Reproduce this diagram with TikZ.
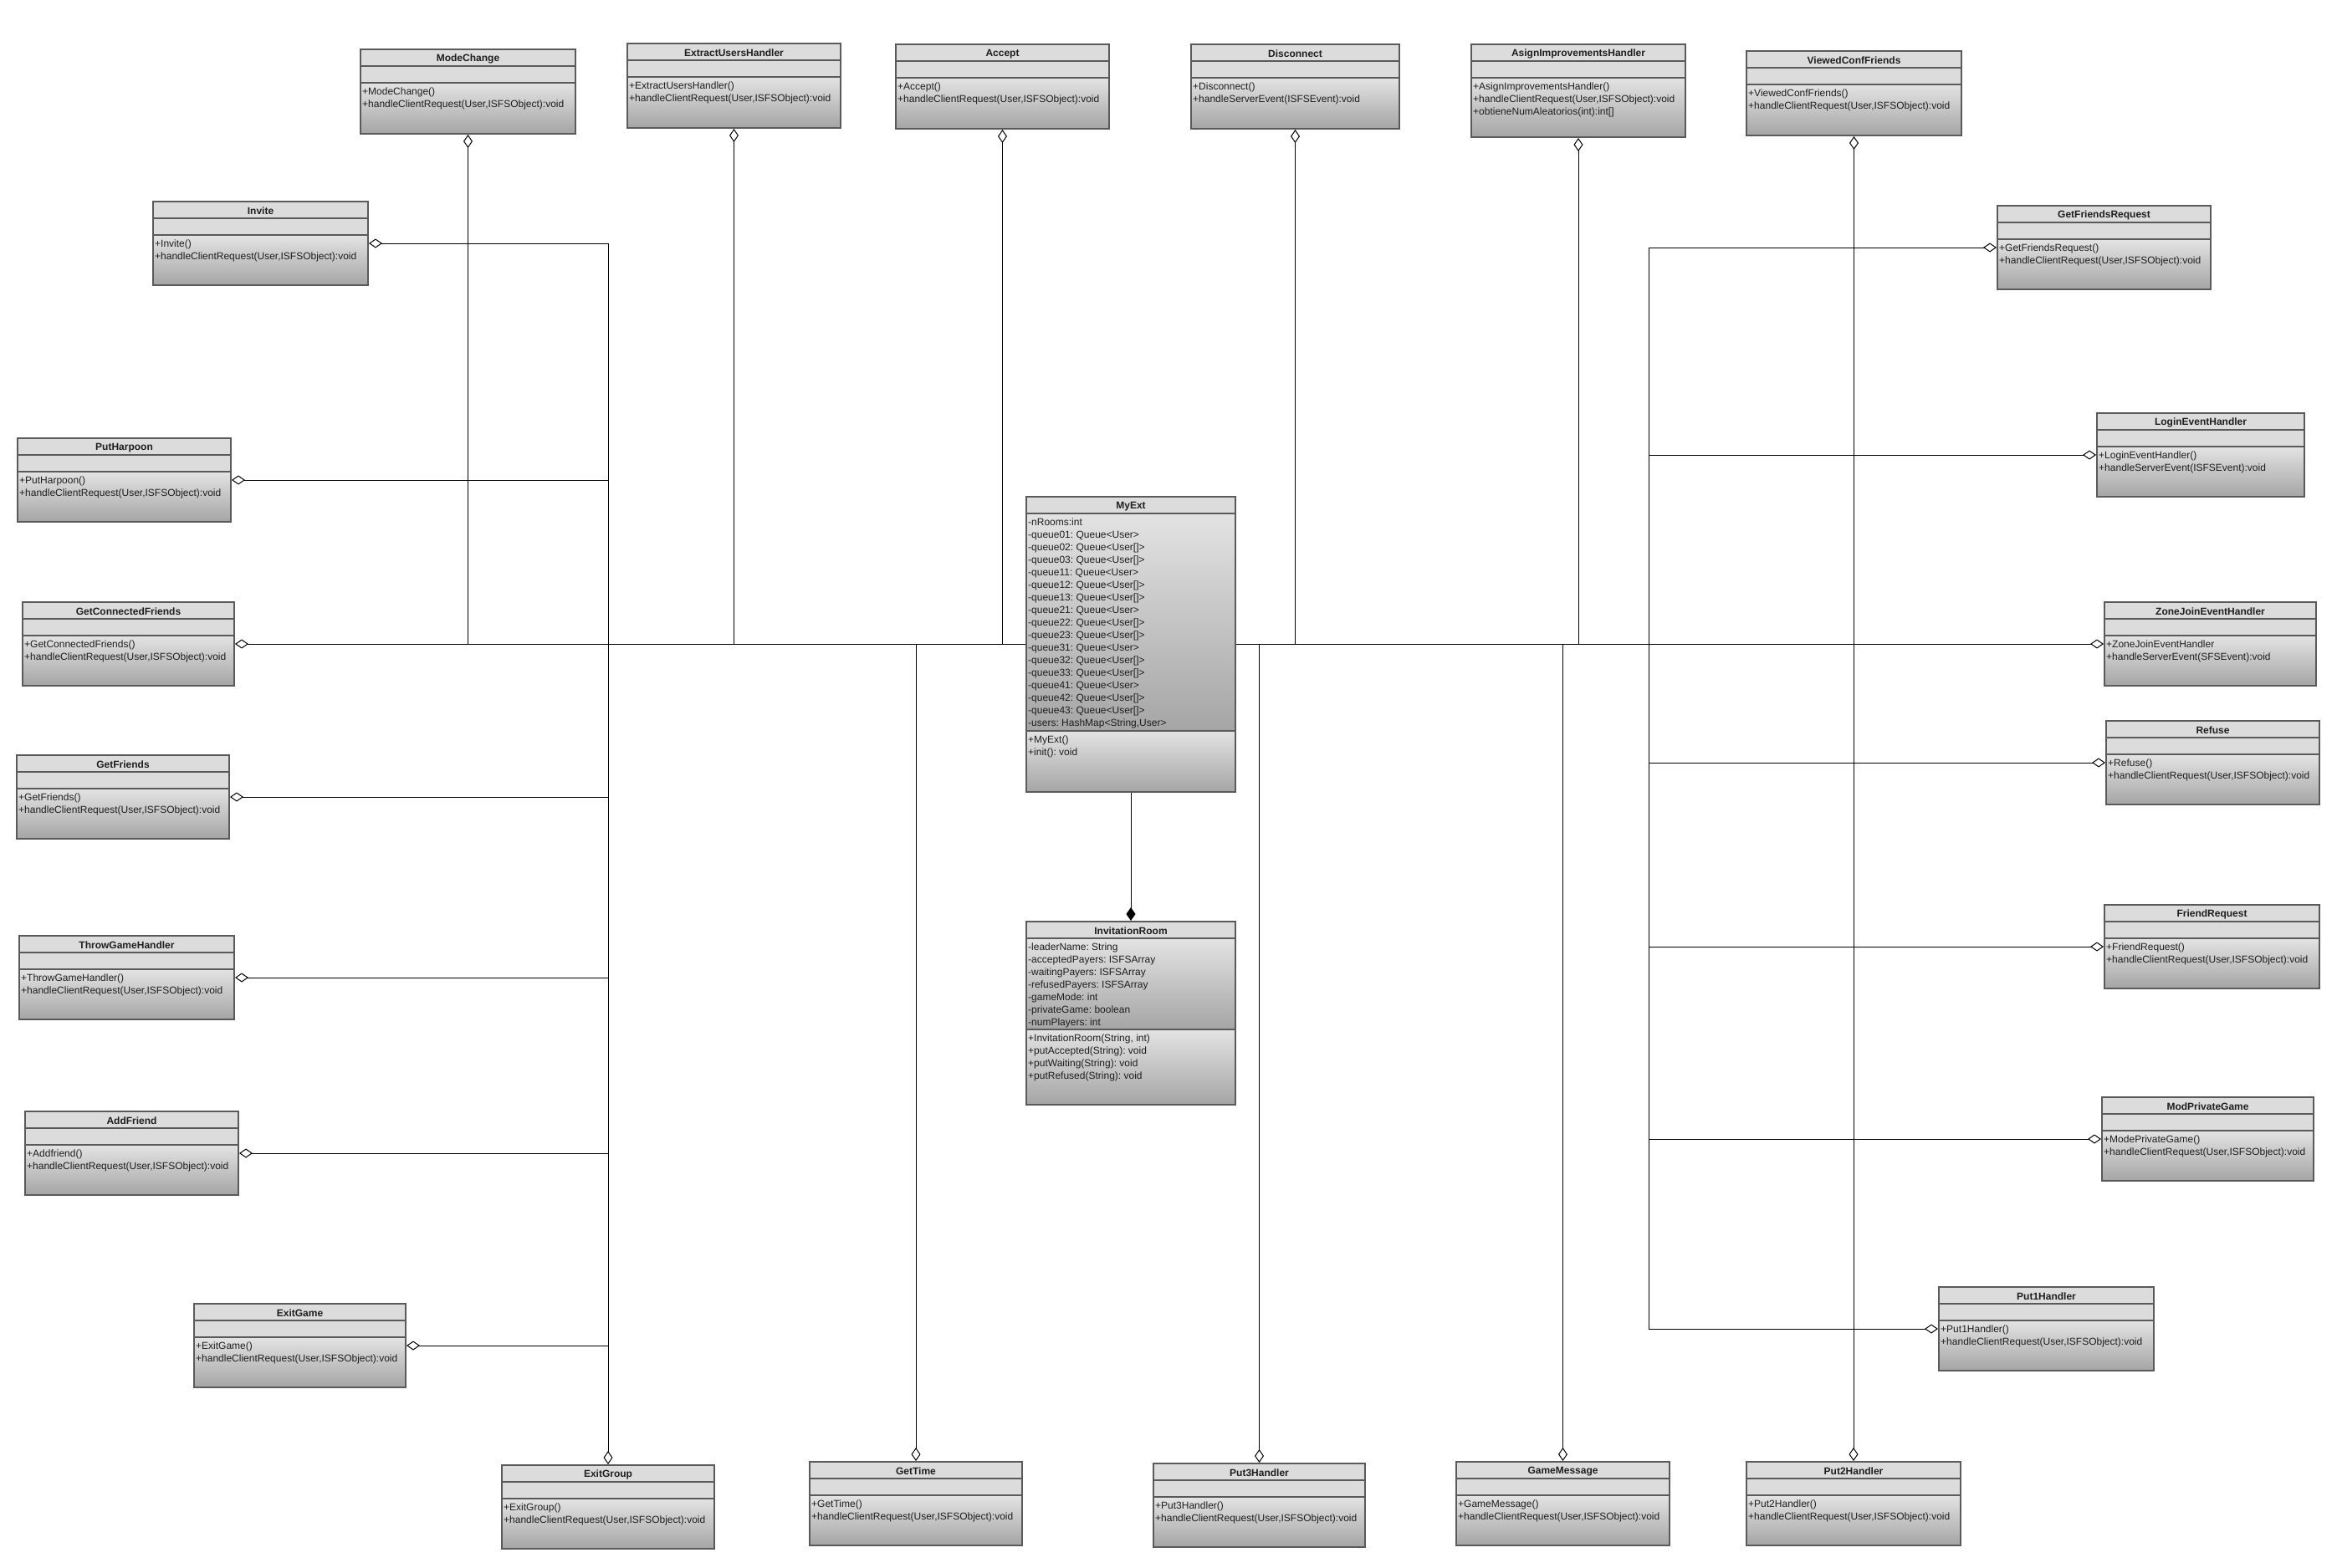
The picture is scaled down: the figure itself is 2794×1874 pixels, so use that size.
\documentclass[tikz,border=0pt]{standalone}
\usepackage{fontspec}
\setmainfont{Liberation Sans}
\usetikzlibrary{arrows.meta}
\frenchspacing
\definecolor{boxgray}{HTML}{5A5A5A}
\definecolor{flatfill}{HTML}{DCDCDC}
\definecolor{shadetop}{HTML}{E3E3E3}
\definecolor{shadebot}{HTML}{A5A5A5}
\definecolor{txtcol}{HTML}{1E1E1E}
\tikzset{
  umlbox/.style={draw=boxgray, line width=2pt, inner sep=0pt, rectangle},
  sepline/.style={draw=boxgray, line width=2pt},
  flatcomp/.style={fill=flatfill},
  compshade/.style={top color=shadetop, bottom color=shadebot},
  umltitle/.style={inner sep=0pt, font=\fontsize{12}{15}\selectfont\bfseries\frenchspacing, text=txtcol},
  umlmembers/.style={anchor=north west, inner sep=0pt, align=left, font=\fontsize{12}{15}\selectfont\frenchspacing, text=txtcol, execute at begin node=\strut},
  agg/.style={line width=1pt, draw=black, {Diamond[open, length=16pt, width=11pt, line width=1pt]}-},
  comp/.style={line width=1pt, draw=black, -{Diamond[length=16pt, width=11pt]}}
}
\newcommand{\HCRline}{+handleClientRequest(User,ISFSObject):void}
% #1 name, #2 x1, #3 y1, #4 x2, #5 title, #6 attr height, #7 attrs, #8 method height, #9 methods
\newcommand{\umlclass}[9]{%
  \pgfmathsetmacro{\uya}{#3+20}%
  \pgfmathsetmacro{\uyb}{\uya+#6}%
  \pgfmathsetmacro{\uyc}{\uyb+#8}%
  \pgfmathsetmacro{\uxm}{(#2+#4)/2}%
  \pgfmathsetmacro{\uym}{(#3+\uyc)/2}%
  \pgfmathsetmacro{\ubw}{#4-#2}%
  \pgfmathsetmacro{\ubh}{\uyc-#3}%
  \pgfmathsetmacro{\uyt}{#3+11.5}%
  \pgfmathsetmacro{\uxl}{#2+2}%
  \pgfmathsetmacro{\uyaa}{\uya+5.5}%
  \pgfmathsetmacro{\uybb}{\uyb+5.5}%
  \fill[flatcomp] (#2,#3) rectangle (#4,\uya);
  \def\umlattrs{#7}%
  \ifx\umlattrs\empty
    \fill[flatcomp] (#2,\uya) rectangle (#4,\uyb);
  \else
    \shade[compshade] (#2,\uya) rectangle (#4,\uyb);
  \fi
  \shade[compshade] (#2,\uyb) rectangle (#4,\uyc);
  \draw[sepline] (#2,\uya) -- (#4,\uya) (#2,\uyb) -- (#4,\uyb);
  \node[umlbox, minimum width=\ubw pt, minimum height=\ubh pt] (#1) at (\uxm,\uym) {};
  \node[umltitle] (#1-title) at (\uxm,\uyt) {#5};
  \node[umlmembers] (#1-attrs) at (\uxl,\uyaa) {#7};
  \node[umlmembers] (#1-ops) at (\uxl,\uybb) {#9};
}
\begin{document}
\begin{tikzpicture}[x=1pt,y=-1pt]
\fill[white] (0,0) rectangle (2794,1874);
\useasboundingbox (0,0) rectangle (2794,1874);
\coordinate (lbus) at (727,0);
\coordinate (rbus) at (1971,0);

% centre classes
\umlclass{myext}{1227}{594}{1477}{MyExt}{260}{-nRooms:int\\-queue01: Queue<User>\\-queue02: Queue<User[]>\\-queue03: Queue<User[]>\\-queue11: Queue<User>\\-queue12: Queue<User[]>\\-queue13: Queue<User[]>\\-queue21: Queue<User>\\-queue22: Queue<User[]>\\-queue23: Queue<User[]>\\-queue31: Queue<User>\\-queue32: Queue<User[]>\\-queue33: Queue<User[]>\\-queue41: Queue<User>\\-queue42: Queue<User[]>\\-queue43: Queue<User[]>\\-users: HashMap<String,User>}{73}{+MyExt()\\+init(): void}
\umlclass{invroom}{1227}{1102}{1477}{InvitationRoom}{109}{-leaderName: String\\-acceptedPayers: ISFSArray\\-waitingPayers: ISFSArray\\-refusedPayers: ISFSArray\\-gameMode: int\\-privateGame: boolean\\-numPlayers: int}{90}{+InvitationRoom(String, int)\\+putAccepted(String): void\\+putWaiting(String): void\\+putRefused(String): void}

% top row
\umlclass{modechange}{431}{59}{688}{ModeChange}{20}{}{61}{+ModeChange()\\\HCRline}
\umlclass{extract}{750}{52}{1005}{ExtractUsersHandler}{20}{}{61}{+ExtractUsersHandler()\\\HCRline}
\umlclass{accept}{1071}{53}{1326}{Accept}{20}{}{61}{+Accept()\\\HCRline}
\umlclass{disconnect}{1424}{53}{1673}{Disconnect}{20}{}{61}{+Disconnect()\\+handleServerEvent(ISFSEvent):void}
\umlclass{asign}{1759}{53}{2015}{AsignImprovementsHandler}{20}{}{71}{+AsignImprovementsHandler()\\\HCRline\\+obtieneNumAleatorios(int):int[]}
\umlclass{viewed}{2088}{61}{2345}{ViewedConfFriends}{20}{}{61}{+ViewedConfFriends()\\\HCRline}

% left column
\umlclass{invite}{183}{241}{440}{Invite}{20}{}{60}{+Invite()\\\HCRline}
\umlclass{putharpoon}{21}{524}{276}{PutHarpoon}{20}{}{60}{+PutHarpoon()\\\HCRline}
\umlclass{getconn}{27}{720}{280}{GetConnectedFriends}{20}{}{60}{+GetConnectedFriends()\\\HCRline}
\umlclass{getfriends}{20}{903}{274}{GetFriends}{20}{}{60}{+GetFriends()\\\HCRline}
\umlclass{throwgame}{23}{1119}{280}{ThrowGameHandler}{20}{}{60}{+ThrowGameHandler()\\\HCRline}
\umlclass{addfriend}{30}{1329}{285}{AddFriend}{20}{}{60}{+Addfriend()\\\HCRline}
\umlclass{exitgame}{232}{1559}{485}{ExitGame}{20}{}{60}{+ExitGame()\\\HCRline}

% bottom row
\umlclass{exitgroup}{600}{1752}{854}{ExitGroup}{20}{}{60}{+ExitGroup()\\\HCRline}
\umlclass{gettime}{968}{1748}{1222}{GetTime}{20}{}{60}{+GetTime()\\\HCRline}
\umlclass{put3}{1379}{1750}{1632}{Put3Handler}{20}{}{60}{+Put3Handler()\\\HCRline}
\umlclass{gamemsg}{1741}{1748}{1996}{GameMessage}{20}{}{60}{+GameMessage()\\\HCRline}
\umlclass{put2}{2088}{1748}{2344}{Put2Handler}{20}{}{60}{+Put2Handler()\\\HCRline}

% right column
\umlclass{gfrequest}{2388}{246}{2643}{GetFriendsRequest}{20}{}{60}{+GetFriendsRequest()\\\HCRline}
\umlclass{login}{2507}{494}{2755}{LoginEventHandler}{20}{}{60}{+LoginEventHandler()\\+handleServerEvent(ISFSEvent):void}
\umlclass{zonejoin}{2516}{720}{2769}{ZoneJoinEventHandler}{20}{}{60}{+ZoneJoinEventHandler\\+handleServerEvent(SFSEvent):void}
\umlclass{refuse}{2518}{862}{2773}{Refuse}{20}{}{60}{+Refuse()\\\HCRline}
\umlclass{friendreq}{2516}{1082}{2773}{FriendRequest}{20}{}{60}{+FriendRequest()\\\HCRline}
\umlclass{modprivate}{2513}{1312}{2766}{ModPrivateGame}{20}{}{60}{+ModePrivateGame()\\\HCRline}
\umlclass{put1}{2318}{1539}{2575}{Put1Handler}{20}{}{60}{+Put1Handler()\\\HCRline}

% aggregation connectors: top row
\foreach \n in {modechange,extract,accept}
  \draw[agg] (\n.south) -- (\n.south |- myext.west) -- (myext.west);
\foreach \n in {disconnect,asign,viewed}
  \draw[agg] (\n.south) -- (\n.south |- myext.east) -- (myext.east);
% left column
\foreach \n in {invite,putharpoon,getconn,getfriends,throwgame,addfriend,exitgame}
  \draw[agg] (\n.east) -- (\n.east -| lbus) -- (lbus |- myext.west) -- (myext.west);
% bottom row
\foreach \n in {exitgroup,gettime}
  \draw[agg] (\n.north) -- (\n.north |- myext.west) -- (myext.west);
\foreach \n in {put3,gamemsg,put2}
  \draw[agg] (\n.north) -- (\n.north |- myext.east) -- (myext.east);
% right column
\foreach \n in {gfrequest,login,zonejoin,refuse,friendreq,modprivate,put1}
  \draw[agg] (\n.west) -- (\n.west -| rbus) -- (rbus |- myext.east) -- (myext.east);
% composition
\draw[comp] (myext.south) -- (invroom.north);
\end{tikzpicture}
\end{document}
